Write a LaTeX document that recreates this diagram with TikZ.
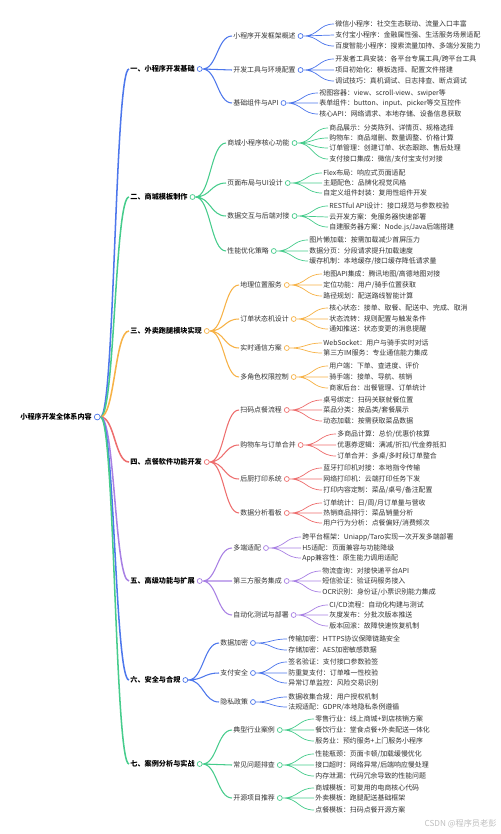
\documentclass[tikz,border=0pt]{standalone}
\usepackage{fontspec}
\setmainfont{Noto Sans CJK SC}
\usepackage{xcolor}
\usetikzlibrary{positioning, calc}
\definecolor{cblue}{RGB}{77,119,236}
\definecolor{cgreen}{RGB}{70,204,140}
\definecolor{corange}{RGB}{247,178,70}
\definecolor{cred}{RGB}{238,110,110}
\definecolor{cpurple}{RGB}{168,128,228}
\definecolor{txt}{RGB}{51,51,51}

\begin{document}
\begin{tikzpicture}[
      x=0.03cm, y=-0.03cm,
      every node/.style={font=\fontsize{5.9}{7}\selectfont, text=txt, inner sep=1pt, anchor=west},
      main/.style={font=\fontsize{6.1}{7}\selectfont\bfseries, text=black},
      sub/.style={},
      leaf/.style={},
      dot/.style={circle, draw=#1, fill=white, line width=0.6pt,
                  minimum size=4.2pt, inner sep=0pt},
      mm/.style={to path={let \p1=(\tikztostart), \p2=(\tikztotarget) in
                  .. controls ({0.5*\x1+0.5*\x2},\y1) and ({0.5*\x1+0.5*\x2},\y2) .. (\tikztotarget)}},
      l1/.style={mm, draw=#1, line width=1.3pt},
      l2/.style={mm, draw=#1, line width=0.9pt},
      l3/.style={mm, draw=#1, line width=0.6pt},
      node distance=0.6pt
    ]
      \fill[white] (0,0) rectangle (500,834);
      \useasboundingbox (0,0) rectangle (500,834);

      % root
      \node[main] (r) at (19,417) {小程序开发全体系内容};
      \node[dot=cblue, right=of r, minimum size=5pt] (ro) {};

      % level 1
      \node[main] (b1) at (129,69) {一、小程序开发基础};
      \node[main] (b2) at (129,197) {二、商城模板制作};
      \node[main] (b3) at (129,331) {三、外卖跑腿模块实现};
      \node[main] (b4) at (129,462) {四、点餐软件功能开发};
      \node[main] (b5) at (129,581) {五、高级功能与扩展};
      \node[main] (b6) at (129,680) {六、安全与合规};
      \node[main] (b7) at (129,764) {七、案例分析与实战};
      \draw[l1=cblue] (ro.east) to (b1.west);
      \draw[l1=cgreen] (ro.east) to (b2.west);
      \draw[l1=corange] (ro.east) to (b3.west);
      \draw[l1=cred] (ro.east) to (b4.west);
      \draw[l1=cpurple] (ro.east) to (b5.west);
      \draw[l1=cblue] (ro.east) to (b6.west);
      \draw[l1=cgreen] (ro.east) to (b7.west);
      \node[dot=cblue, right=of b1] (b1o) {};
      \node[dot=cgreen, right=of b2] (b2o) {};
      \node[dot=corange, right=of b3] (b3o) {};
      \node[dot=cred, right=of b4] (b4o) {};
      \node[dot=cpurple, right=of b5] (b5o) {};
      \node[dot=cblue, right=of b6] (b6o) {};
      \node[dot=cgreen, right=of b7] (b7o) {};

      % 一
      \node[sub] (b1a) at (232,36) {小程序开发框架概述};
      \node[sub] (b1b) at (232,70) {开发工具与环境配置};
      \node[sub] (b1c) at (232,103) {基础组件与API};
      \draw[l2=cblue] (b1o.east) to (b1a.west) (b1o.east) to (b1b.west) (b1o.east) to (b1c.west);
      \node[dot=cblue, right=of b1a] (b1ao) {};
      \node[dot=cblue, right=of b1b] (b1bo) {};
      \node[dot=cblue, right=of b1c] (b1co) {};
      \node[leaf] (b1a1) at (334,24) {微信小程序：社交生态联动、流量入口丰富};
      \node[leaf] (b1a2) at (334,35) {支付宝小程序：金融属性强、生活服务场景适配};
      \node[leaf] (b1a3) at (334,46) {百度智能小程序：搜索流量加持、多端分发能力};
      \node[leaf] (b1b1) at (334,59) {开发者工具安装：各平台专属工具/跨平台工具};
      \node[leaf] (b1b2) at (334,70) {项目初始化：模板选择、配置文件搭建};
      \node[leaf] (b1b3) at (334,81) {调试技巧：真机调试、日志排查、断点调试};
      \node[leaf] (b1c1) at (318,93) {视图容器：view、scroll-view、swiper等};
      \node[leaf] (b1c2) at (318,103) {表单组件：button、input、picker等交互控件};
      \node[leaf] (b1c3) at (318,114) {核心API：网络请求、本地存储、设备信息获取};
      \draw[l3=cblue] (b1ao.east) to (b1a1.west) (b1ao.east) to (b1a2.west) (b1ao.east) to (b1a3.west);
      \draw[l3=cblue] (b1bo.east) to (b1b1.west) (b1bo.east) to (b1b2.west) (b1bo.east) to (b1b3.west);
      \draw[l3=cblue] (b1co.east) to (b1c1.west) (b1co.east) to (b1c2.west) (b1co.east) to (b1c3.west);

      % 二
      \node[sub] (b2a) at (226,143) {商城小程序核心功能};
      \node[sub] (b2b) at (226,183) {页面布局与UI设计};
      \node[sub] (b2c) at (226,216) {数据交互与后端对接};
      \node[sub] (b2d) at (226,251) {性能优化策略};
      \draw[l2=cgreen] (b2o.east) to (b2a.west) (b2o.east) to (b2b.west) (b2o.east) to (b2c.west) (b2o.east) to (b2d.west);
      \node[dot=cgreen, right=of b2a] (b2ao) {};
      \node[dot=cgreen, right=of b2b] (b2bo) {};
      \node[dot=cgreen, right=of b2c] (b2co) {};
      \node[dot=cgreen, right=of b2d] (b2do) {};
      \node[leaf] (b2a1) at (328,128) {商品展示：分类陈列、详情页、规格选择};
      \node[leaf] (b2a2) at (328,138) {购物车：商品增删、数量调整、价格计算};
      \node[leaf] (b2a3) at (328,148) {订单管理：创建订单、状态跟踪、售后处理};
      \node[leaf] (b2a4) at (328,159) {支付接口集成：微信/支付宝支付对接};
      \node[leaf] (b2b1) at (322,173) {Flex布局：响应式页面适配};
      \node[leaf] (b2b2) at (322,183) {主题配色：品牌化视觉风格};
      \node[leaf] (b2b3) at (322,193) {自定义组件封装：复用性组件开发};
      \node[leaf] (b2c1) at (328,206) {RESTful API设计：接口规范与参数校验};
      \node[leaf] (b2c2) at (328,217) {云开发方案：免服务器快速部署};
      \node[leaf] (b2c3) at (328,227) {自建服务器方案：Node.js/Java后端搭建};
      \node[leaf] (b2d1) at (308,240) {图片懒加载：按需加载减少首屏压力};
      \node[leaf] (b2d2) at (308,251) {数据分页：分段请求提升加载速度};
      \node[leaf] (b2d3) at (308,261) {缓存机制：本地缓存/接口缓存降低请求量};
      \draw[l3=cgreen] (b2ao.east) to (b2a1.west) (b2ao.east) to (b2a2.west) (b2ao.east) to (b2a3.west) (b2ao.east) to (b2a4.west);
      \draw[l3=cgreen] (b2bo.east) to (b2b1.west) (b2bo.east) to (b2b2.west) (b2bo.east) to (b2b3.west);
      \draw[l3=cgreen] (b2co.east) to (b2c1.west) (b2co.east) to (b2c2.west) (b2co.east) to (b2c3.west);
      \draw[l3=cgreen] (b2do.east) to (b2d1.west) (b2do.east) to (b2d2.west) (b2do.east) to (b2d3.west);

      % 三
      \node[sub] (b3a) at (239,285) {地理位置服务};
      \node[sub] (b3b) at (239,319) {订单状态机设计};
      \node[sub] (b3c) at (239,348) {实时通信方案};
      \node[sub] (b3d) at (239,377) {多角色权限控制};
      \draw[l2=corange] (b3o.east) to (b3a.west) (b3o.east) to (b3b.west) (b3o.east) to (b3c.west) (b3o.east) to (b3d.west);
      \node[dot=corange, right=of b3a] (b3ao) {};
      \node[dot=corange, right=of b3b] (b3bo) {};
      \node[dot=corange, right=of b3c] (b3co) {};
      \node[dot=corange, right=of b3d] (b3do) {};
      \node[leaf] (b3a1) at (322,274) {地图API集成：腾讯地图/高德地图对接};
      \node[leaf] (b3a2) at (322,285) {定位功能：用户/骑手位置获取};
      \node[leaf] (b3a3) at (322,296) {路径规划：配送路线智能计算};
      \node[leaf] (b3b1) at (328,308) {核心状态：接单、取餐、配送中、完成、取消};
      \node[leaf] (b3b2) at (328,319) {状态流转：规则配置与触发条件};
      \node[leaf] (b3b3) at (328,329) {通知推送：状态变更的消息提醒};
      \node[leaf] (b3c1) at (322,343) {WebSocket：用户与骑手实时对话};
      \node[leaf] (b3c2) at (322,353) {第三方IM服务：专业通信能力集成};
      \node[leaf] (b3d1) at (328,366) {用户端：下单、查进度、评价};
      \node[leaf] (b3d2) at (328,377) {骑手端：接单、导航、核销};
      \node[leaf] (b3d3) at (328,388) {商家后台：出餐管理、订单统计};
      \draw[l3=corange] (b3ao.east) to (b3a1.west) (b3ao.east) to (b3a2.west) (b3ao.east) to (b3a3.west);
      \draw[l3=corange] (b3bo.east) to (b3b1.west) (b3bo.east) to (b3b2.west) (b3bo.east) to (b3b3.west);
      \draw[l3=corange] (b3co.east) to (b3c1.west) (b3co.east) to (b3c2.west);
      \draw[l3=corange] (b3do.east) to (b3d1.west) (b3do.east) to (b3d2.west) (b3do.east) to (b3d3.west);

      % 四
      \node[sub] (b4a) at (239,410) {扫码点餐流程};
      \node[sub] (b4b) at (239,445) {购物车与订单合并};
      \node[sub] (b4c) at (239,479) {后厨打印系统};
      \node[sub] (b4d) at (239,513) {数据分析看板};
      \draw[l2=cred] (b4o.east) to (b4a.west) (b4o.east) to (b4b.west) (b4o.east) to (b4c.west) (b4o.east) to (b4d.west);
      \node[dot=cred, right=of b4a] (b4ao) {};
      \node[dot=cred, right=of b4b] (b4bo) {};
      \node[dot=cred, right=of b4c] (b4co) {};
      \node[dot=cred, right=of b4d] (b4do) {};
      \node[leaf] (b4a1) at (322,400) {桌号绑定：扫码关联就餐位置};
      \node[leaf] (b4a2) at (322,410) {菜品分类：按品类/套餐展示};
      \node[leaf] (b4a3) at (322,421) {动态加载：按需获取菜品数据};
      \node[leaf] (b4b1) at (336,434) {多商品计算：总价/优惠价核算};
      \node[leaf] (b4b2) at (336,445) {优惠券逻辑：满减/折扣/代金券抵扣};
      \node[leaf] (b4b3) at (336,456) {订单合并：多桌/多时段订单整合};
      \node[leaf] (b4c1) at (322,468) {蓝牙打印机对接：本地指令传输};
      \node[leaf] (b4c2) at (322,479) {网络打印机：云端打印任务下发};
      \node[leaf] (b4c3) at (322,490) {打印内容定制：菜品/桌号/备注配置};
      \node[leaf] (b4d1) at (322,503) {订单统计：日/周/月订单量与营收};
      \node[leaf] (b4d2) at (322,513) {热销商品排行：菜品销量分析};
      \node[leaf] (b4d3) at (322,523) {用户行为分析：点餐偏好/消费频次};
      \draw[l3=cred] (b4ao.east) to (b4a1.west) (b4ao.east) to (b4a2.west) (b4ao.east) to (b4a3.west);
      \draw[l3=cred] (b4bo.east) to (b4b1.west) (b4bo.east) to (b4b2.west) (b4bo.east) to (b4b3.west);
      \draw[l3=cred] (b4co.east) to (b4c1.west) (b4co.east) to (b4c2.west) (b4co.east) to (b4c3.west);
      \draw[l3=cred] (b4do.east) to (b4d1.west) (b4do.east) to (b4d2.west) (b4do.east) to (b4d3.west);

      % 五
      \node[sub] (b5a) at (232,548) {多端适配};
      \node[sub] (b5b) at (232,581) {第三方服务集成};
      \node[sub] (b5c) at (232,615) {自动化测试与部署};
      \draw[l2=cpurple] (b5o.east) to (b5a.west) (b5o.east) to (b5b.west) (b5o.east) to (b5c.west);
      \node[dot=cpurple, right=of b5a] (b5ao) {};
      \node[dot=cpurple, right=of b5b] (b5bo) {};
      \node[dot=cpurple, right=of b5c] (b5co) {};
      \node[leaf] (b5a1) at (301,537) {跨平台框架：Uniapp/Taro实现一次开发多端部署};
      \node[leaf] (b5a2) at (301,548) {H5适配：页面兼容与功能降级};
      \node[leaf] (b5a3) at (301,558) {App兼容性：原生能力调用适配};
      \node[leaf] (b5b1) at (321,571) {物流查询：对接快递平台API};
      \node[leaf] (b5b2) at (321,581) {短信验证：验证码服务接入};
      \node[leaf] (b5b3) at (321,592) {OCR识别：身份证/小票识别能力集成};
      \node[leaf] (b5c1) at (328,605) {CI/CD流程：自动化构建与测试};
      \node[leaf] (b5c2) at (328,615) {灰度发布：分批次版本推送};
      \node[leaf] (b5c3) at (328,626) {版本回滚：故障快速恢复机制};
      \draw[l3=cpurple] (b5ao.east) to (b5a1.west) (b5ao.east) to (b5a2.west) (b5ao.east) to (b5a3.west);
      \draw[l3=cpurple] (b5bo.east) to (b5b1.west) (b5bo.east) to (b5b2.west) (b5bo.east) to (b5b3.west);
      \draw[l3=cpurple] (b5co.east) to (b5c1.west) (b5co.east) to (b5c2.west) (b5co.east) to (b5c3.west);

      % 六
      \node[sub] (b6a) at (219,643) {数据加密};
      \node[sub] (b6b) at (219,673) {支付安全};
      \node[sub] (b6c) at (219,702) {隐私政策};
      \draw[l2=cblue] (b6o.east) to (b6a.west) (b6o.east) to (b6b.west) (b6o.east) to (b6c.west);
      \node[dot=cblue, right=of b6a] (b6ao) {};
      \node[dot=cblue, right=of b6b] (b6bo) {};
      \node[dot=cblue, right=of b6c] (b6co) {};
      \node[leaf] (b6a1) at (287,639) {传输加密：HTTPS协议保障链路安全};
      \node[leaf] (b6a2) at (287,650) {存储加密：AES加密敏感数据};
      \node[leaf] (b6b1) at (287,662) {签名验证：支付接口参数验签};
      \node[leaf] (b6b2) at (287,673) {防重复支付：订单唯一性校验};
      \node[leaf] (b6b3) at (287,683) {异常订单监控：风险交易识别};
      \node[leaf] (b6c1) at (287,697) {数据收集合规：用户授权机制};
      \node[leaf] (b6c2) at (287,707) {法规适配：GDPR/本地隐私条例遵循};
      \draw[l3=cblue] (b6ao.east) to (b6a1.west) (b6ao.east) to (b6a2.west);
      \draw[l3=cblue] (b6bo.east) to (b6b1.west) (b6bo.east) to (b6b2.west) (b6bo.east) to (b6b3.west);
      \draw[l3=cblue] (b6co.east) to (b6c1.west) (b6co.east) to (b6c2.west);

      % 七
      \node[sub] (b7a) at (232,730) {典型行业案例};
      \node[sub] (b7b) at (232,765) {常见问题排查};
      \node[sub] (b7c) at (232,798) {开源项目推荐};
      \draw[l2=cgreen] (b7o.east) to (b7a.west) (b7o.east) to (b7b.west) (b7o.east) to (b7c.west);
      \node[dot=cgreen, right=of b7a] (b7ao) {};
      \node[dot=cgreen, right=of b7b] (b7bo) {};
      \node[dot=cgreen, right=of b7c] (b7co) {};
      \node[leaf] (b7a1) at (314,719) {零售行业：线上商城+到店核销方案};
      \node[leaf] (b7a2) at (314,730) {餐饮行业：堂食点餐+外卖配送一体化};
      \node[leaf] (b7a3) at (314,741) {服务业：预约服务+上门服务小程序};
      \node[leaf] (b7b1) at (314,754) {性能瓶颈：页面卡顿/加载缓慢优化};
      \node[leaf] (b7b2) at (314,765) {接口超时：网络异常/后端响应慢处理};
      \node[leaf] (b7b3) at (314,776) {内存泄漏：代码冗余导致的性能问题};
      \node[leaf] (b7c1) at (314,788) {商城模板：可复用的电商核心代码};
      \node[leaf] (b7c2) at (314,798) {外卖模板：跑腿配送基础框架};
      \node[leaf] (b7c3) at (314,810) {点餐模板：扫码点餐开源方案};
      \draw[l3=cgreen] (b7ao.east) to (b7a1.west) (b7ao.east) to (b7a2.west) (b7ao.east) to (b7a3.west);
      \draw[l3=cgreen] (b7bo.east) to (b7b1.west) (b7bo.east) to (b7b2.west) (b7bo.east) to (b7b3.west);
      \draw[l3=cgreen] (b7co.east) to (b7c1.west) (b7co.east) to (b7c2.west) (b7co.east) to (b7c3.west);

      \node[anchor=east, text=black!25, font=\fontsize{7}{8}\selectfont] (wm) at (498,824) {CSDN @程序员老彭};
    \end{tikzpicture}
\end{document}
